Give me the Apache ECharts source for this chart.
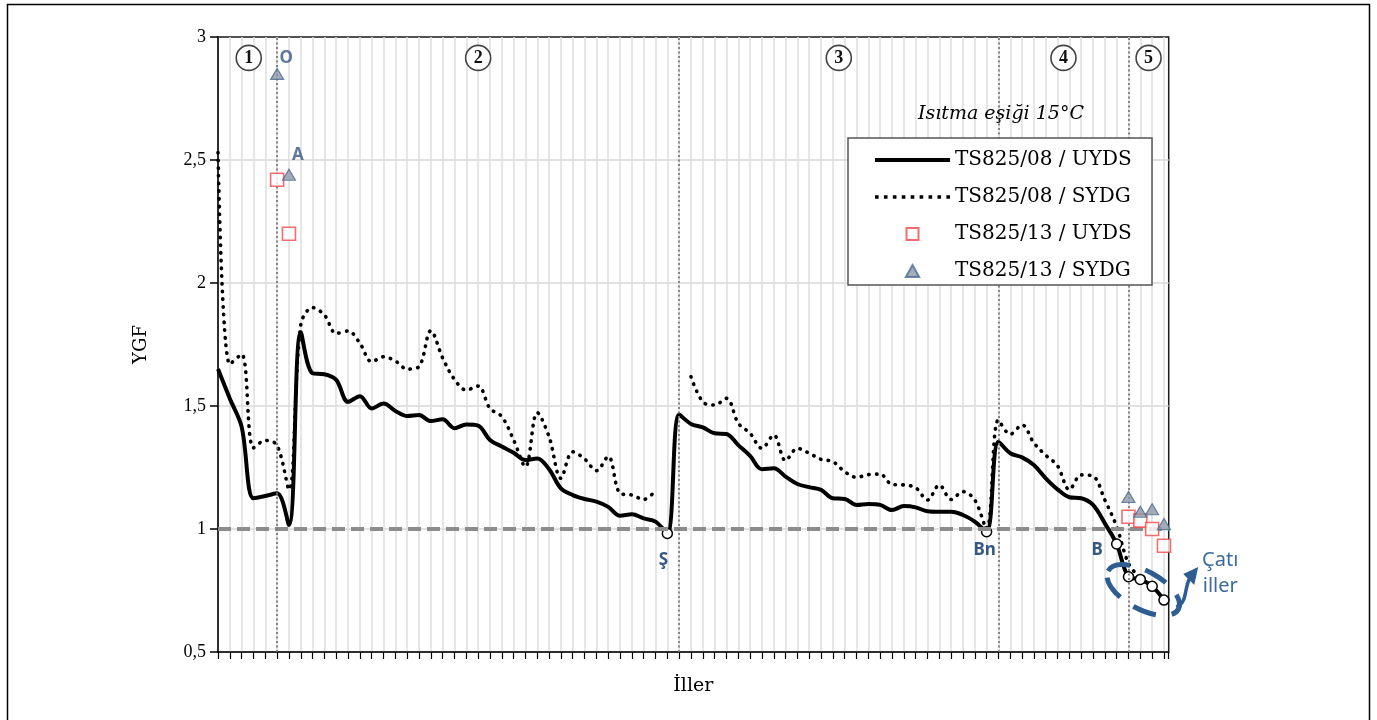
<!DOCTYPE html>
<html><head><meta charset="utf-8">
<script src="https://cdn.jsdelivr.net/npm/echarts@6/dist/echarts.min.js"></script>
<style>html,body{margin:0;padding:0;background:#fff}#c{width:1377px;height:720px}</style>
</head><body><div id="c"></div>
<script>
// ---- data (index = il sırası, 0..80) ----
const seriesNames = ['TS825/08 / UYDS','TS825/08 / SYDG','TS825/13 / UYDS','TS825/13 / SYDG'];
const uyds08 = [1.65,1.53,1.415,1.125,1.134,1.145,1.016,1.80,1.633,1.629,
  1.606,1.517,1.54,1.49,1.51,1.48,1.459,1.463,1.439,1.446,
  1.41,1.425,1.42,1.362,1.335,1.31,1.28,1.287,1.243,1.165,
  1.138,1.122,1.111,1.09,1.054,1.06,1.043,1.03,0.982,1.465,
  1.427,1.413,1.389,1.386,1.341,1.297,1.243,1.247,1.213,1.183,
  1.17,1.159,1.125,1.122,1.098,1.102,1.098,1.077,1.093,1.088,
  1.072,1.07,1.07,1.057,1.03,0.989,1.355,1.308,1.291,1.26,
  1.206,1.161,1.129,1.125,1.098,1.023,0.939,0.806,0.795,0.767,0.711];
const sydg08 = [2.53,1.67,1.71,1.33,1.36,1.34,1.16,1.83,1.90,1.87,
  1.795,1.805,1.755,1.68,1.70,1.683,1.65,1.66,1.806,1.695,
  1.608,1.565,1.581,1.49,1.457,1.362,1.253,1.473,1.375,1.206,
  1.314,1.285,1.237,1.295,1.145,1.138,1.12,1.156,null,null,
  1.619,1.517,1.504,1.531,1.43,1.389,1.328,1.382,1.278,1.328,
  1.308,1.283,1.274,1.233,1.21,1.221,1.223,1.181,1.179,1.168,
  1.118,1.179,1.12,1.152,1.118,1.0,1.443,1.385,1.423,1.35,
  1.30,1.257,1.16,1.22,1.215,1.118,1.01,0.86,0.80,null,null];
const uyds13Idx = [5,6,77,78,79,80];
const uyds13Val = [2.42,2.20,1.05,1.034,1.0,0.932];
const sydg13Idx = [5,6,77,78,79,80];
const sydg13Val = [2.85,2.44,1.13,1.07,1.08,1.02];
const markedIdx = [38,65,76,77,78,79,80];          // open-circle provinces
const pointLabelIdx = [38,65,76];
const pointLabelText = ['Ş','Bn','B'];
const triLabelIdx = [5,6];
const triLabelText = ['O','A'];
const zoneBounds = [5,39,66,77];
const zoneCenters = [2.6,22,52.5,71.5,78.7];
const zoneNames = ['1','2','3','4','5'];
const zoneLabelY = 2.915;
const yTicks = [0.5,1,1.5,2,2.5,3];
const refLine = 1;
const annotText = 'Çatı\niller';
const titleText = 'Isıtma eşiği 15°C';

// ---- build ----
const labelFont = {fontFamily:'Noto Sans', fontWeight:'bold', fontSize:17, color:'#36587f'};
const pointLabelStyle = [
  {position:'bottom', distance:12, offset:[-4,0]},
  {position:'bottom', distance:4, offset:[-2,0]},
  {position:'left', distance:8, offset:[0,6]}
];
const solidData = uyds08.map((v,i)=>{
  if (markedIdx.indexOf(i) < 0) return [i,v];
  const item = {value:[i,v], symbol:'circle', symbolSize:10};
  const k = pointLabelIdx.indexOf(i);
  if (k >= 0) item.label = Object.assign({show:true, formatter:pointLabelText[k]}, labelFont, pointLabelStyle[k]);
  return item;
});
const dottedData = sydg08.map((v,i)=>[i, v]);
const sqData = uyds13Idx.map((x,k)=>[x, uyds13Val[k]]);
const triData = sydg13Idx.map((x,k)=>{
  const j = triLabelIdx.indexOf(x);
  if (j < 0) return [x, sydg13Val[k]];
  return {value:[x, sydg13Val[k]], label:Object.assign({show:true, formatter:triLabelText[j], position:'top', distance:j===0?1:5, offset:[9,0]}, labelFont)};
});

let dotPath = 'path://';
for (let k=0;k<9;k++){ const x0 = (k*8.9).toFixed(2); dotPath += 'M'+x0+',0h3.6v3.6h-3.6z'; }

const option = {
  animation:false,
  backgroundColor:'#fff',
  title:{text:titleText, left:918, top:105, padding:0,
    textStyle:{fontFamily:'DejaVu Serif', fontStyle:'italic', fontWeight:'normal', fontSize:19, color:'#000'}},
  legend:{
    data:[
      {name:seriesNames[0], icon:'path://M0,0H75V4H0Z', itemStyle:{color:'#000', borderWidth:0}},
      {name:seriesNames[1], icon:dotPath, itemStyle:{color:'#000', borderWidth:0}},
      {name:seriesNames[2], icon:'path://M0,0H10V10H0Z'},
      {name:seriesNames[3], icon:'path://M5,0L10,9H0Z'}
    ],
    orient:'vertical', left:875, top:150, padding:0,
    itemWidth:75, itemHeight:12, itemGap:17, itemTextGap:9,
    selectedMode:false, z:20,
    textStyle:{fontFamily:'DejaVu Serif', fontSize:20, color:'#000'}
  },
  grid:{left:218, right:1377-1168.7, top:37, bottom:68, show:true, borderColor:'#1a1a1a', borderWidth:1.5, containLabel:false},
  xAxis:{type:'value', min:0, max:80.4, interval:1,
    name:'İller', nameLocation:'middle', nameGap:25,
    nameTextStyle:{fontFamily:'DejaVu Serif', fontSize:19, color:'#000'},
    axisLine:{show:true, lineStyle:{color:'#000', width:1.5}},
    axisTick:{show:true, length:7, lineStyle:{color:'#000', width:1.2}},
    axisLabel:{show:false},
    splitLine:{show:true, showMaxLine:false, lineStyle:{color:'#dedede', width:1.5}}},
  yAxis:{type:'value', min:yTicks[0], max:yTicks[yTicks.length-1], interval:0.5,
    name:'YGF', nameLocation:'middle', nameGap:68,
    nameTextStyle:{fontFamily:'DejaVu Serif', fontSize:18, color:'#000'},
    axisLine:{show:true, lineStyle:{color:'#000', width:1.5}},
    axisTick:{show:true, length:8, lineStyle:{color:'#000', width:1.5}},
    axisLabel:{formatter:v=>String(v).replace('.',','), fontFamily:'Liberation Serif', fontSize:18, color:'#000', margin:12},
    splitLine:{show:true, showMaxLine:false, lineStyle:{color:'#d9d9d9', width:1.5}}},
  series:[
    {name:seriesNames[1], type:'line', data:dottedData, smooth:0.35, symbol:'none', connectNulls:false,
     lineStyle:{color:'#000', width:3.6, type:[0.5,7.2], cap:'round'}, itemStyle:{color:'#000'}, z:3,
     markLine:{silent:true, symbol:['none','none'], label:{show:false},
       data:[{yAxis:refLine, lineStyle:{color:'#8c8c8c', width:4, type:[13,6]}}]
         .concat(zoneBounds.map(b=>({xAxis:b, lineStyle:{color:'#7a7a7a', width:1.8, type:[2,2.5]}})))},
     markPoint:{silent:true, symbol:'circle', symbolSize:25,
       itemStyle:{color:'#fff', borderColor:'#444', borderWidth:1.6},
       label:{show:true, position:'inside', fontFamily:'Liberation Serif', fontWeight:'bold', fontSize:18, color:'#111', formatter:p=>p.name},
       data:zoneCenters.map((c,k)=>({name:zoneNames[k], coord:[c, zoneLabelY]}))}
    },
    {name:seriesNames[0], type:'line', data:solidData, smooth:0.35, symbol:'none', showSymbol:true,
     lineStyle:{color:'#000', width:4}, itemStyle:{color:'#fff', borderColor:'#000', borderWidth:1.5}, z:4},
    {name:seriesNames[2], type:'scatter', data:sqData, symbol:'rect', symbolSize:13,
     itemStyle:{color:'#fff', borderColor:'#f04848', borderWidth:1.6}, z:5},
    {name:seriesNames[3], type:'scatter', data:triData, symbol:'triangle', symbolSize:[13,11],
     itemStyle:{color:'#8e99a6', borderColor:'#4b6b92', borderWidth:1.2}, z:6}
  ]
};

const chart = echarts.init(document.getElementById('c'), null, {renderer:'canvas'});
chart.setOption(option);
const pc = chart.convertToPixel({gridIndex:0}, [78.5, 0.78]);
const blue = '#2e5d92';
chart.setOption({graphic:[
  {type:'rect', shape:{x:7.5, y:4.5, width:1362, height:740}, style:{fill:'none', stroke:'#000', lineWidth:1.5}, z:1, silent:true},
  {type:'rect', shape:{x:848, y:138, width:304, height:147}, style:{fill:'#fff', stroke:'#555', lineWidth:1.5}, z:10, silent:true},
  {type:'ellipse', x:pc[0]-3, y:pc[1]+7, rotation:-0.5, shape:{cx:0, cy:0, rx:40, ry:19},
   style:{fill:'none', stroke:blue, lineWidth:5, lineDash:[24,16]}, z:12, silent:true},
  {type:'bezierCurve', shape:{x1:pc[0]+30, y1:pc[1]+24, cpx1:pc[0]+41, cpy1:pc[1]+20, cpx2:pc[0]+38, cpy2:pc[1]+6, x2:pc[0]+43, y2:pc[1]-4},
   style:{fill:'none', stroke:blue, lineWidth:3.5}, z:12, silent:true},
  {type:'polygon', shape:{points:[[pc[0]+52,pc[1]-16],[pc[0]+37,pc[1]-9],[pc[0]+48,pc[1]+2]]}, style:{fill:blue}, z:12, silent:true},
  {type:'text', x:pc[0]+74, y:pc[1]-10, style:{text:annotText, fontFamily:'Noto Sans', fontSize:20, lineHeight:26, fill:'#3d6a9e', align:'center', verticalAlign:'middle'}, z:12, silent:true}
]});
</script>
</body></html>
